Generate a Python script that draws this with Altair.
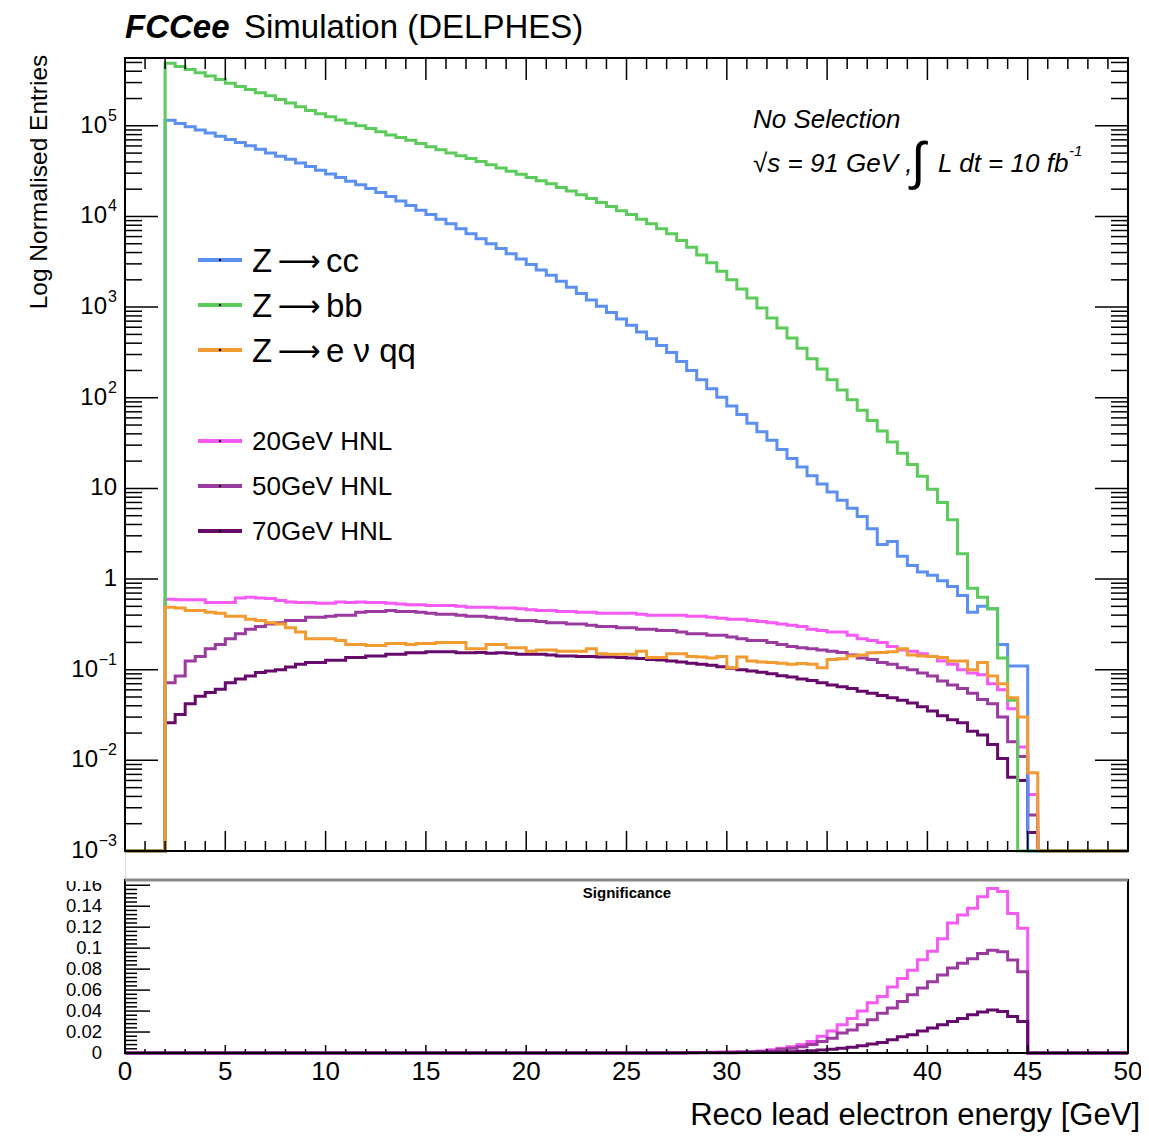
import altair as alt
import pandas as pd

FONT = "Liberation Sans"

# ---------------- data (0.5 GeV bins, 0 .. 50 GeV) ----------------
BIN_W = 0.5
N_BINS = 100
EDGES = [i * BIN_W for i in range(N_BINS + 1)]

Z_CC = [0, 0, 0, 0,
        1.15e5, 1.06e5, 9.77e4, 9.0e4, 8.32e4, 7.67e4, 7.08e4, 6.53e4, 6.03e4, 5.5e4,
        5.01e4, 4.62e4, 4.27e4, 3.89e4, 3.55e4, 3.24e4, 2.95e4, 2.69e4, 2.45e4, 2.24e4,
        2.04e4, 1.84e4, 1.66e4, 1.48e4, 1.32e4, 1.17e4, 1.05e4, 9.33e3, 8.32e3, 7.33e3,
        6.46e3, 5.69e3, 5.01e3, 4.42e3, 3.89e3, 3.39e3, 2.95e3, 2.57e3, 2.24e3, 1.93e3,
        1.66e3, 1.41e3, 1.2e3, 1.02e3, 871, 741, 631, 531, 447, 376,
        316, 251, 200, 158, 126, 101, 81.3, 65.3, 52.5, 42.2,
        33.9, 26.9, 21.4, 17.2, 13.8, 11.2, 9.12, 7.41, 6.03, 4.9,
        3.6, 2.4, 2.6, 1.78, 1.41, 1.2, 1.1, 0.955, 0.83, 0.66,
        0.43, 0.5, 0.47, 0.19, 0.11, 0.11,
        0, 0, 0, 0, 0, 0, 0, 0, 0, 0]

Z_BB = [0, 0, 0, 0,
        4.9e5, 4.5e5, 4.17e5, 3.85e5, 3.55e5, 3.24e5, 2.95e5, 2.72e5, 2.51e5, 2.32e5,
        2.14e5, 1.95e5, 1.78e5, 1.62e5, 1.48e5, 1.36e5, 1.26e5, 1.16e5, 1.07e5, 1.0e5,
        9.33e4, 8.6e4, 7.94e4, 7.41e4, 6.92e4, 6.38e4, 5.89e4, 5.43e4, 5.01e4, 4.68e4,
        4.37e4, 4.03e4, 3.72e4, 3.43e4, 3.16e4, 2.92e4, 2.69e4, 2.48e4, 2.29e4, 2.09e4,
        1.91e4, 1.74e4, 1.58e4, 1.43e4, 1.29e4, 1.16e4, 1.05e4, 9.33e3, 8.32e3, 7.33e3,
        6.46e3, 5.43e3, 4.57e3, 3.76e3, 3.09e3, 2.48e3, 2.0e3, 1.58e3, 1.26e3, 977,
        759, 589, 457, 351, 269, 207, 158, 122, 95.0, 73.0,
        56.0, 43.0, 32.5, 24.5, 18.3, 13.6, 9.8, 7.0, 4.5, 1.9,
        0.79, 0.63, 0.47, 0.135, 0.046,
        0, 0, 0, 0, 0, 0, 0, 0, 0, 0, 0]

Z_ENUQQ = [0, 0, 0, 0,
           0.49, 0.48, 0.45, 0.45, 0.43, 0.42, 0.39, 0.39, 0.36, 0.35,
           0.33, 0.32, 0.29, 0.26, 0.22, 0.22, 0.22, 0.21, 0.19, 0.19,
           0.185, 0.185, 0.195, 0.195, 0.19, 0.195, 0.195, 0.2, 0.2, 0.2,
           0.17, 0.17, 0.19, 0.19, 0.175, 0.175, 0.16, 0.165, 0.165, 0.16,
           0.16, 0.16, 0.17, 0.15, 0.148, 0.148, 0.148, 0.16, 0.136, 0.136,
           0.15, 0.15, 0.14, 0.138, 0.135, 0.14, 0.105, 0.138, 0.125, 0.122,
           0.12, 0.118, 0.115, 0.117, 0.115, 0.105, 0.13, 0.132, 0.142, 0.145,
           0.154, 0.155, 0.158, 0.17, 0.145, 0.142, 0.14, 0.136, 0.125, 0.125,
           0.10, 0.12, 0.085, 0.07, 0.049, 0.03, 0.0073,
           0, 0, 0, 0, 0, 0, 0, 0, 0]

HNL20 = [0, 0, 0, 0,
         0.60, 0.59, 0.59, 0.59, 0.55, 0.55, 0.55, 0.62, 0.63, 0.62,
         0.61, 0.58, 0.56, 0.55, 0.55, 0.54, 0.54, 0.56, 0.55, 0.56,
         0.55, 0.55, 0.54, 0.53, 0.52, 0.52, 0.51, 0.51, 0.51, 0.50,
         0.49, 0.49, 0.49, 0.48, 0.48, 0.47, 0.46, 0.45, 0.45, 0.44,
         0.44, 0.43, 0.43, 0.42, 0.42, 0.42, 0.42, 0.41, 0.40, 0.40,
         0.40, 0.40, 0.39, 0.39, 0.38, 0.37, 0.36, 0.36, 0.35, 0.34,
         0.33, 0.32, 0.31, 0.30, 0.28, 0.27, 0.26, 0.26, 0.24, 0.22,
         0.21, 0.20, 0.18, 0.165, 0.16, 0.15, 0.14, 0.125, 0.115, 0.10,
         0.092, 0.088, 0.07, 0.06, 0.037, 0.014, 0.0042,
         0, 0, 0, 0, 0, 0, 0, 0, 0]

HNL50 = [0, 0, 0, 0,
         0.072, 0.085, 0.125, 0.14, 0.17, 0.19, 0.22, 0.25, 0.28, 0.30,
         0.32, 0.33, 0.35, 0.35, 0.38, 0.38, 0.39, 0.40, 0.40, 0.43,
         0.44, 0.44, 0.45, 0.44, 0.44, 0.43, 0.42, 0.41, 0.41, 0.40,
         0.39, 0.39, 0.38, 0.37, 0.36, 0.35, 0.35, 0.34, 0.33, 0.33,
         0.32, 0.32, 0.31, 0.30, 0.30, 0.29, 0.29, 0.28, 0.28, 0.27,
         0.27, 0.26, 0.25, 0.25, 0.24, 0.24, 0.23, 0.22, 0.21, 0.21,
         0.20, 0.19, 0.18, 0.175, 0.17, 0.165, 0.16, 0.155, 0.145, 0.135,
         0.13, 0.12, 0.115, 0.105, 0.10, 0.092, 0.085, 0.075, 0.068, 0.062,
         0.055, 0.047, 0.042, 0.03, 0.016, 0.011, 0.0025,
         0, 0, 0, 0, 0, 0, 0, 0, 0]

HNL70 = [0, 0, 0, 0,
         0.026, 0.032, 0.042, 0.051, 0.056, 0.061, 0.072, 0.079, 0.085, 0.093,
         0.097, 0.10, 0.107, 0.115, 0.12, 0.12, 0.127, 0.127, 0.136, 0.136,
         0.142, 0.142, 0.148, 0.148, 0.154, 0.154, 0.158, 0.158, 0.158, 0.154,
         0.154, 0.155, 0.152, 0.154, 0.152, 0.148, 0.148, 0.148, 0.145, 0.142,
         0.142, 0.14, 0.14, 0.138, 0.138, 0.136, 0.135, 0.133, 0.13, 0.128,
         0.125, 0.122, 0.118, 0.115, 0.112, 0.108, 0.104, 0.10, 0.097, 0.094,
         0.09, 0.086, 0.083, 0.079, 0.076, 0.072, 0.068, 0.065, 0.062, 0.058,
         0.055, 0.052, 0.049, 0.046, 0.043, 0.039, 0.035, 0.031, 0.028, 0.026,
         0.021, 0.019, 0.015, 0.0105, 0.0065, 0.006, 0.0016,
         0, 0, 0, 0, 0, 0, 0, 0, 0]

SIG_LOW_ZEROS = [0] * 52     # bins 0 .. 25.5 GeV
SIG_HIGH_ZEROS = [0] * 10    # bins 45 .. 49.5 GeV
SIG20 = SIG_LOW_ZEROS + [
    0.0001, 0.00015, 0.0002, 0.0003, 0.0004, 0.0005, 0.0006, 0.0008, 0.001, 0.0012,
    0.0015, 0.002, 0.003, 0.0045, 0.006, 0.008, 0.011, 0.016, 0.021, 0.027,
    0.033, 0.040, 0.048, 0.054, 0.063, 0.071, 0.079, 0.089, 0.097, 0.109,
    0.124, 0.1315, 0.138, 0.149, 0.157, 0.154, 0.133, 0.119] + SIG_HIGH_ZEROS
SIG50 = SIG_LOW_ZEROS + [
    0.0001, 0.0001, 0.00015, 0.0002, 0.0003, 0.0004, 0.0005, 0.0006, 0.0008, 0.001,
    0.0012, 0.0015, 0.002, 0.0035, 0.0045, 0.006, 0.008, 0.011, 0.014, 0.019,
    0.022, 0.027, 0.0317, 0.038, 0.043, 0.049, 0.0555, 0.062, 0.068, 0.0745,
    0.081, 0.0856, 0.090, 0.095, 0.098, 0.0966, 0.0887, 0.0776] + SIG_HIGH_ZEROS
SIG70 = SIG_LOW_ZEROS + [
    0.00005, 0.00005, 0.0001, 0.0001, 0.00015, 0.0002, 0.0002, 0.00025, 0.0003, 0.0004,
    0.0005, 0.0006, 0.0008, 0.001, 0.0013, 0.0017, 0.0022, 0.0028, 0.0035, 0.0045,
    0.0055, 0.007, 0.0085, 0.010, 0.0127, 0.0155, 0.0174, 0.021, 0.0238, 0.027,
    0.030, 0.033, 0.0364, 0.039, 0.041, 0.0396, 0.0348, 0.030] + SIG_HIGH_ZEROS

X_TICK_VALUES = [0, 5, 10, 15, 20, 25, 30, 35, 40, 45, 50]
X_TICK_TEXT = ["0", "5", "10", "15", "20", "25", "30", "35", "40", "45", "50"]
Y_MAIN_VALUES = [1e-3, 1e-2, 1e-1, 1, 10, 1e2, 1e3, 1e4, 1e5]
Y_MAIN_BASE = ["10", "10", "10", "1", "10", "10", "10", "10", "10"]
Y_MAIN_EXP = ["−3", "−2", "−1", "", "", "2", "3", "4", "5"]
Y_LOW_VALUES = [0, 0.02, 0.04, 0.06, 0.08, 0.1, 0.12, 0.14, 0.16]
Y_LOW_TEXT = ["0", "0.02", "0.04", "0.06", "0.08", "0.1", "0.12", "0.14", "0.16"]

C_CC, C_BB, C_ENU = "#5b8ff2", "#5ccb5c", "#f29b30"
C_H20, C_H50, C_H70 = "#f55af5", "#9b3a9f", "#660a6b"

# ---------------- geometry ----------------
W, H = 1003, 995          # whole drawing area (both pads)
MAIN_H = 793              # bottom of the upper pad
LOW_TOP = 822             # top of the lower pad
YMIN, YMAX = 1e-3, 5.6e5

XS = alt.Scale(domain=[0, 50], nice=False, zero=False)
YM = alt.Scale(type="log", domain=[YMIN, YMAX], range=[MAIN_H, 0], nice=False)
YL = alt.Scale(domain=[0, 0.165], range=[H, LOW_TOP], nice=False, zero=False)

DUMMY = pd.DataFrame({"d": [0]})


def hist_df(vals, floor=None):
    vs = list(vals) + [vals[-1]]
    if floor is not None:
        vs = [max(v, floor) for v in vs]
    return pd.DataFrame({"x": EDGES, "v": vs})


def step(vals, color, yscale, floor=None, width=3.0):
    return alt.Chart(hist_df(vals, floor)).mark_line(
        interpolate="step-after", color=color, strokeWidth=width
    ).encode(
        x=alt.X("x:Q", scale=XS, axis=None),
        y=alt.Y("v:Q", scale=yscale, axis=None),
    )


def text(s, x, y, size, align="left", baseline="alphabetic", font=FONT, **kw):
    return alt.Chart(DUMMY).mark_text(
        text=s, fontSize=size, font=font, color="black", align=align, baseline=baseline, **kw
    ).encode(x=alt.value(x), y=alt.value(y))


def xticks(vals, y0, y1, width=1.5):
    return alt.Chart(pd.DataFrame({"t": vals})).mark_rule(color="black", strokeWidth=width).encode(
        x=alt.X("t:Q", scale=XS, axis=None), y=alt.value(y0), y2=alt.value(y1))


def yticks(vals, yscale, x0, x1, width=1.5):
    return alt.Chart(pd.DataFrame({"t": vals})).mark_rule(color="black", strokeWidth=width).encode(
        y=alt.Y("t:Q", scale=yscale, axis=None), x=alt.value(x0), x2=alt.value(x1))


def frame(y0, y1, stroke="black", width=2):
    return alt.Chart(DUMMY).mark_rect(fill="transparent", fillOpacity=0, stroke=stroke,
                                      strokeWidth=width).encode(
        x=alt.value(0), x2=alt.value(W), y=alt.value(y0), y2=alt.value(y1))


def white_box(x0, x1, y0, y1):
    return alt.Chart(DUMMY).mark_rect(fill="white", stroke=None).encode(
        x=alt.value(x0), x2=alt.value(x1), y=alt.value(y0), y2=alt.value(y1))


minor_x = [t for t in range(51) if t % 5 != 0]
major_x = [t for t in range(51) if t % 5 == 0]
y_minor = [k * 10.0 ** e for e in range(-3, 6) for k in range(2, 10) if k * 10.0 ** e < YMAX]

# ---------------- main pad ----------------
main_layers = [
    step(HNL20, C_H20, YM, floor=YMIN),
    step(HNL50, C_H50, YM, floor=YMIN),
    step(HNL70, C_H70, YM, floor=YMIN),
    step(Z_CC, C_CC, YM, floor=YMIN),
    step(Z_BB, C_BB, YM, floor=YMIN),
    step(Z_ENUQQ, C_ENU, YM, floor=YMIN),
    frame(0, MAIN_H),
    xticks(major_x, MAIN_H, MAIN_H - 20), xticks(minor_x, MAIN_H, MAIN_H - 10),
    xticks(major_x, 0, 22), xticks(minor_x, 0, 11),
    yticks(Y_MAIN_VALUES, YM, 0, 33), yticks(y_minor, YM, 0, 17),
    yticks(Y_MAIN_VALUES, YM, W - 33, W), yticks(y_minor, YM, W - 17, W),
]

# legend
LEG_Z = [("cc", C_CC, 202), ("bb", C_BB, 247), ("e ν qq", C_ENU, 292)]
LEG_H = [("20GeV HNL", C_H20, 383), ("50GeV HNL", C_H50, 428), ("70GeV HNL", C_H70, 473)]
for label, col, ly in LEG_Z + LEG_H:
    main_layers.append(alt.Chart(DUMMY).mark_rule(color=col, strokeWidth=4).encode(
        x=alt.value(73), x2=alt.value(117), y=alt.value(ly)))
    main_layers.append(alt.Chart(DUMMY).mark_point(shape="square", filled=True, color="black",
                                                   size=5, opacity=1).encode(
        x=alt.value(95), y=alt.value(ly)))
for label, col, ly in LEG_Z:
    main_layers.append(text("Z", 127, ly + 12, 33))
    main_layers.append(text("⟶", 174, ly + 2, 30, align="center", baseline="middle", font="DejaVu Sans"))
    main_layers.append(text(label, 201, ly + 12, 33))
for label, col, ly in LEG_H:
    main_layers.append(text(label, 127, ly + 1, 26, baseline="middle"))

# annotations
main_layers += [
    text("FCCee", 0, -30, 33, baseline="middle", fontWeight="bold", fontStyle="italic"),
    text("Simulation (DELPHES)", 119, -30, 33, baseline="middle"),
    text("Log Normalised Entries", -85, 124, 24.5, align="center", baseline="middle", angle=270),
    text("No Selection", 628, 70, 26, fontStyle="italic"),
    text("√s = 91 GeV ,", 628, 114, 26, fontStyle="italic"),
    text("∫", 793, 105, 52, align="center", baseline="middle"),
    text("L dt = 10 fb", 813, 114, 26, fontStyle="italic"),
    text("-1", 944, 98, 15, fontStyle="italic"),
]
main = alt.layer(*main_layers)

# ---------------- lower pad ----------------
low_major = [i * 0.02 for i in range(9)]
low_minor = [i * 0.004 for i in range(41) if i % 5 != 0]

ylow_lab = alt.Chart(pd.DataFrame({"t": Y_LOW_VALUES, "lab": Y_LOW_TEXT})).mark_text(
    align="right", baseline="middle", fontSize=18.5, font=FONT, color="black"
).encode(y=alt.Y("t:Q", scale=YL, axis=None), x=alt.value(-23), text="lab:N")

xlab = alt.Chart(pd.DataFrame({"t": X_TICK_VALUES, "lab": X_TICK_TEXT})).mark_text(
    align="center", baseline="middle", fontSize=26, font=FONT, color="black"
).encode(x=alt.X("t:Q", scale=XS, axis=None), y=alt.value(H + 19), text="lab:N")

low = alt.layer(
    step(SIG20, C_H20, YL),
    step(SIG50, C_H50, YL),
    step(SIG70, C_H70, YL),
    ylow_lab,
    # the upper pad overlaps the top of the lower pad (white strip, clips the "0.16" label top)
    white_box(1, W + 5, MAIN_H + 2, LOW_TOP - 1),
    white_box(-70, 0, 810, LOW_TOP + 1),
    frame(LOW_TOP, H),
    alt.Chart(DUMMY).mark_rule(color="#8a8a8a", strokeWidth=3).encode(
        x=alt.value(0), x2=alt.value(W), y=alt.value(LOW_TOP)),
    xticks(major_x, H, H - 8), xticks(minor_x, H, H - 4),
    yticks(low_major, YL, 0, 25), yticks(low_minor, YL, 0, 12),
    xlab,
    text("Significance", 502, 835, 15, align="center", baseline="middle", fontWeight="bold"),
    text("Reco lead electron energy [GeV]", 1015, 1067, 31, align="right"),
)

# ---------------- main-pad y labels (drawn last so nothing covers them) ----------------
ylab_df = pd.DataFrame({"t": Y_MAIN_VALUES, "base": Y_MAIN_BASE, "exp": Y_MAIN_EXP})
label_layers = [alt.Chart(ylab_df[ylab_df["exp"] != ""]).mark_text(
    align="right", baseline="middle", fontSize=16, font=FONT, color="black", dy=-10
).encode(y=alt.Y("t:Q", scale=YM, axis=None), x=alt.value(-8), text="exp:N")]
exp_width = {"−3": 19, "−2": 19, "−1": 19, "": 0, "2": 10, "3": 10, "4": 10, "5": 10}
for xoff in sorted(set(exp_width.values())):
    keys = [k for k, v in exp_width.items() if v == xoff]
    sub = ylab_df[ylab_df["exp"].isin(keys)]
    label_layers.append(alt.Chart(sub).mark_text(
        align="right", baseline="middle", fontSize=24, font=FONT, color="black"
    ).encode(y=alt.Y("t:Q", scale=YM, axis=None), x=alt.value(-8 - xoff), text="base:N"))
main_labels = alt.layer(*label_layers)

chart = alt.layer(main, low, main_labels).resolve_scale(y="independent").properties(
    width=W, height=H,
    autosize=alt.AutoSizeParams(type="none"),
    padding={"left": 117, "top": 50, "right": 13, "bottom": 82},
    background="white",
).configure_view(stroke=None).configure(font=FONT)

chart.save("out.html", embed_options={"renderer": "svg", "actions": False})
